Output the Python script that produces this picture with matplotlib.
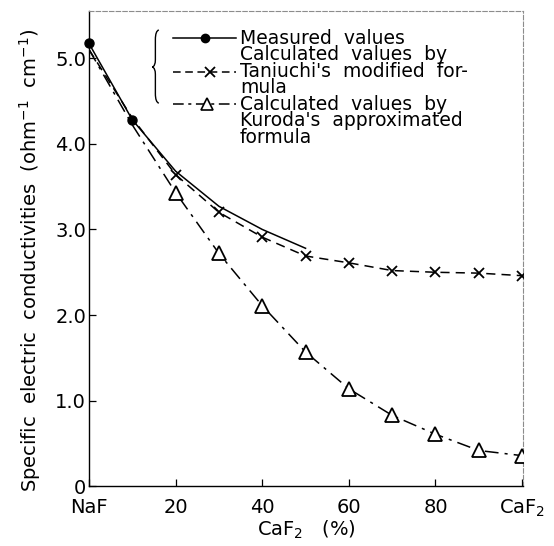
import matplotlib
matplotlib.use("Agg")
import matplotlib.pyplot as plt
from matplotlib.lines import Line2D
from matplotlib.path import Path
from matplotlib.patches import PathPatch

plt.rcParams['font.family'] = ['DejaVu Sans']
plt.rcParams['mathtext.fontset'] = 'dejavusans'

# CaF2 content (%) in the NaF-CaF2 system
pct = [0, 10, 20, 30, 40, 50, 60, 70, 80, 90, 100]

# Measured conductivities (ohm^-1 cm^-1)
measured_pct = [0, 10, 20, 30, 40, 50]
measured = [5.17, 4.28, 3.68, 3.27, 3.00, 2.78]

# Calculated by Taniuchi's modified formula
taniuchi = [5.10, 4.30, 3.64, 3.20, 2.91, 2.69, 2.61, 2.52, 2.50, 2.49, 2.46]

# Calculated by Kuroda's approximated formula
kuroda = [5.10, 4.22, 3.43, 2.72, 2.11, 1.57, 1.14, 0.83, 0.61, 0.42, 0.36]

xtick_vals = [0, 20, 40, 60, 80, 100]
xtick_labels = ['NaF', '20', '40', '60', '80', 'CaF$_2$']
ytick_vals = [0, 1, 2, 3, 4, 5]
ytick_labels = ['0', '1.0', '2.0', '3.0', '4.0', '5.0']

legend_lines = ['Measured  values', 'Calculated  values  by', "Taniuchi's  modified  for-",
                'mula', 'Calculated  values  by', "Kuroda's  approximated", 'formula']

fig = plt.figure(figsize=(5.54, 5.46), dpi=100)
ax = fig.add_axes([0.1606, 0.109, 0.7834, 0.871])

ax.plot(measured_pct, measured, color='black', lw=1.1, ls='-',
        marker='o', ms=6.5, mfc='black', markevery=[0, 1], clip_on=False, zorder=5)
ax.plot(pct, taniuchi, color='black', lw=1.1, ls=(0, (6, 4)),
        marker='x', ms=7, mew=1.3, markevery=list(range(2, len(pct))), zorder=4)
ax.plot(pct, kuroda, color='black', lw=1.1, ls=(0, (9, 4, 2, 4)),
        marker='^', ms=10, mfc='white', mew=1.3, markevery=list(range(2, len(pct))), zorder=4)

ax.set_xlim(0, 100.2)
ax.set_ylim(0, 5.55)
ax.set_xticks(xtick_vals)
ax.set_xticklabels(xtick_labels)
ax.set_yticks(ytick_vals)
ax.set_yticklabels(ytick_labels)
ax.tick_params(direction='in', length=5, width=0.9, labelsize=14, colors='black')
ax.tick_params(axis='x', pad=8)
ax.tick_params(axis='y', pad=2)

for side in ('left', 'bottom'):
    ax.spines[side].set_linewidth(1.0)
for side in ('top', 'right'):
    ax.spines[side].set_linewidth(0.8)
    ax.spines[side].set_color('0.55')
    ax.spines[side].set_linestyle((0, (4, 2)))

ax.set_xlabel('CaF$_2$   (%)', fontsize=14, labelpad=0)
ax.set_ylabel('Specific  electric  conductivities  (ohm$^{-1}$  cm$^{-1}$)',
              fontsize=14)
ax.yaxis.set_label_coords(-0.105, 0.475)

# Legend drawn by hand in axes coordinates
T = ax.transAxes
ax.text(0.348, 0.962, '\n'.join(legend_lines), transform=T, fontsize=13.5,
        va='top', ha='left', linespacing=0.83)

rows = [0.943, 0.872, 0.804]
hx0, hx1 = 0.193, 0.338
ax.add_line(Line2D([hx0, hx1], [rows[0], rows[0]], transform=T, color='black', lw=1.1))
ax.add_line(Line2D([0.268], [rows[0]], transform=T, color='black', marker='o', ms=6, ls='none'))
ax.add_line(Line2D([hx0, hx1], [rows[1], rows[1]], transform=T, color='black', lw=1.1, ls=(0, (5, 3))))
ax.add_line(Line2D([0.278], [rows[1]], transform=T, color='black', marker='x', ms=7, mew=1.3, ls='none'))
ax.add_line(Line2D([hx0, hx1], [rows[2], rows[2]], transform=T, color='black', lw=1.1, ls=(0, (7, 3, 2, 3))))
ax.add_line(Line2D([0.273], [rows[2]], transform=T, color='black', marker='^', ms=9,
                   mfc='white', mew=1.2, ls='none', zorder=6))

# Curly brace grouping the first two entries
bx_in, bx_mid, bx_tip = 0.161, 0.153, 0.146
yt, yc, yb = 0.960, 0.882, 0.806
verts = [(bx_in, yt), (bx_mid, yt - 0.002), (bx_mid, yt - 0.02),
         (bx_mid, yc + 0.015),
         (bx_mid, yc + 0.002), (bx_tip, yc),
         (bx_mid, yc - 0.002), (bx_mid, yc - 0.015),
         (bx_mid, yb + 0.02),
         (bx_mid, yb + 0.002), (bx_in, yb)]
codes = [Path.MOVETO, Path.CURVE3, Path.CURVE3,
         Path.LINETO,
         Path.CURVE3, Path.CURVE3,
         Path.CURVE3, Path.CURVE3,
         Path.LINETO,
         Path.CURVE3, Path.CURVE3]
ax.add_patch(PathPatch(Path(verts, codes), transform=T, fill=False, lw=1.0, color='black'))

fig.savefig('out.png', dpi=100)
